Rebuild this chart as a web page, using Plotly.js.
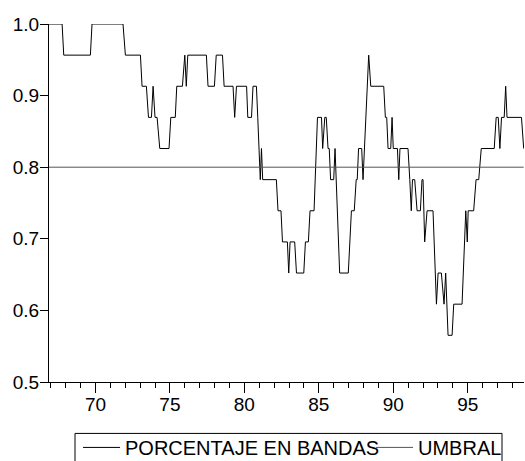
<!DOCTYPE html>
<html>
<head>
<meta charset="utf-8">
<script src="https://cdn.plot.ly/plotly-3.0.1.min.js"></script>
<style>html,body{margin:0;padding:0;background:#fff;overflow:hidden;}#chart{width:525px;height:475px;}</style>
</head>
<body>
<div id="chart"></div>
<script>
// Breakpoints of the step series (decimal year, two-digit) and value
const years = [66.88,67.76,67.87,69.66,69.77,71.85,72.01,73.02,73.13,73.42,73.56,73.76,73.87,74.00,74.14,74.32,74.94,75.06,75.36,75.46,75.84,76.00,76.10,76.20,77.45,77.56,77.99,78.11,78.53,78.64,79.24,79.35,79.47,80.15,80.23,80.48,80.58,80.81,80.90,80.99,81.07,81.15,81.23,82.15,82.26,82.46,82.56,82.89,82.98,83.07,83.38,83.50,83.99,84.10,84.30,84.41,84.68,84.91,85.18,85.26,85.40,85.50,85.62,85.70,85.79,86.00,86.09,86.40,86.98,87.19,87.38,87.51,87.58,87.67,87.88,87.97,88.35,88.49,89.36,89.47,89.56,89.65,89.83,89.92,90.00,90.28,90.37,90.45,90.99,91.11,91.21,91.29,91.44,91.60,91.82,91.93,92.00,92.11,92.27,92.67,92.90,93.01,93.23,93.41,93.52,93.68,93.95,94.06,94.62,94.87,94.97,95.03,95.40,95.56,95.74,95.91,96.78,96.91,97.05,97.16,97.27,97.45,97.55,97.64,98.61,98.76];
// count of series inside bands (out of 23)
const inBands = [23,23,22,22,23,23,22,22,21,21,20,20,21,20,20,19,19,20,20,21,21,22,21,22,22,21,21,22,22,21,21,20,21,21,20,20,21,21,20,19,18,19,18,18,17,17,16,16,15,16,16,15,15,16,16,17,17,20,20,19,20,20,19,19,18,18,19,15,15,17,17,18,18,19,19,18,22,21,21,20,20,19,19,20,19,19,18,19,19,18,17,18,18,17,17,18,18,16,17,17,14,15,15,14,15,13,13,14,14,17,16,17,17,18,18,19,19,20,20,19,20,20,21,20,20,19];
const total = 23;
const porcentaje = inBands.map(k => k / total);
const umbralYears = [66.88, 98.76];
const umbral = [0.8, 0.8];
const xTicks = [70, 75, 80, 85, 90, 95];
const yTicks = [0.5, 0.6, 0.7, 0.8, 0.9, 1.0];

const W = 525, H = 475, ML = 49, MR = 1, MT = 23.7, MB = H - 381.6;
const PW = W - ML - MR, PH = H - MT - MB;
const px = x => (x - ML) / PW;
const py = y => (H - MB - y) / PH;

const font = {family: '"Liberation Sans", Arial, sans-serif', size: 19, color: '#000'};
const legFont = {family: '"Liberation Sans", Arial, sans-serif', size: 20, color: '#000'};

const traces = [
  {x: years, y: porcentaje, type: 'scatter', mode: 'lines', name: 'PORCENTAJE EN BANDAS',
   line: {color: '#000', width: 1}, legend: 'legend'},
  {x: umbralYears, y: umbral, type: 'scatter', mode: 'lines', name: 'UMBRAL',
   line: {color: '#555', width: 1}, legend: 'legend2'}
];

const legBase = {orientation: 'h', xanchor: 'left', yanchor: 'middle', y: py(447),
                 bgcolor: 'rgba(0,0,0,0)', borderwidth: 0, font: legFont, itemwidth: 37};

const layout = {
  width: W, height: H,
  margin: {l: ML, r: MR, t: MT, b: MB, pad: 0},
  paper_bgcolor: '#fff', plot_bgcolor: '#fff',
  font: font,
  showlegend: true,
  legend: Object.assign({}, legBase, {x: px(78)}),
  legend2: Object.assign({}, legBase, {x: px(371)}),
  shapes: [{type: 'rect', xref: 'paper', yref: 'paper', x0: px(75), x1: px(502), y0: py(433), y1: py(474),
            line: {color: '#000', width: 1}, fillcolor: 'rgba(0,0,0,0)', layer: 'above'}],
  xaxis: {range: [66.88, 98.78], showgrid: false, zeroline: false, showline: true,
          linecolor: '#000', linewidth: 1, ticks: 'outside', ticklen: 10, tickcolor: '#000',
          tickvals: xTicks, ticktext: xTicks.map(String), tickfont: font, ticklabelstandoff: -5,
          minor: {dtick: 1, tick0: 0, ticks: 'outside', ticklen: 5, tickcolor: '#000', showgrid: false}},
  yaxis: {range: [0.5, 1.0], showgrid: false, zeroline: false, showline: true,
          linecolor: '#000', linewidth: 1, ticks: 'outside', ticklen: 8, tickcolor: '#000',
          tickvals: yTicks, tickformat: '.1f', tickfont: font, ticklabelstandoff: -3}
};

Plotly.newPlot('chart', traces, layout, {displayModeBar: false, staticPlot: true});
</script>
</body>
</html>
